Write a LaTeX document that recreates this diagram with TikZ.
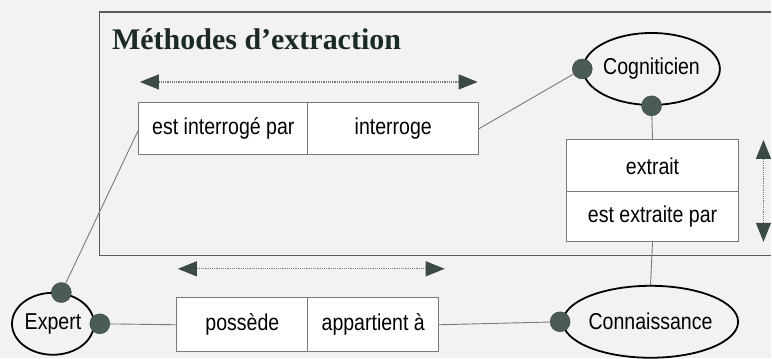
\documentclass[tikz,border=0pt]{standalone}
\usepackage{fontspec}
\setmainfont{Liberation Serif}
\newfontfamily\labelfont[FakeStretch=0.85]{Liberation Sans}
\usetikzlibrary{shapes.geometric}
\usetikzlibrary{arrows.meta}
\usetikzlibrary{positioning}
\definecolor{bgray}{HTML}{F1F2F1}
\definecolor{dotgreen}{HTML}{4B5C57}
\definecolor{linegray}{HTML}{7A7A7A}
\definecolor{titlegreen}{HTML}{1C2B22}
\definecolor{tipgreen}{HTML}{3C4A45}

\begin{document}
\begin{tikzpicture}[x=1pt,y=-1pt,
  cell/.style={draw=linegray,line width=0.9pt,fill=white,minimum height=52pt,inner sep=0pt,outer sep=0pt,
    font=\labelfont\fontsize{23}{27}\selectfont},
  entity/.style={ellipse,draw=black,line width=1.8pt,inner sep=0pt,
    font=\labelfont\fontsize{23}{27}\selectfont},
  dot/.style={circle,fill=dotgreen,draw=dotgreen!70!black,minimum size=20pt,inner sep=0pt},
  link/.style={linegray,line width=0.9pt},
  sens/.style={densely dotted,line width=1.2pt,draw=linegray,
    {Triangle[length=19pt,width=15pt,color=tipgreen,fill=tipgreen]}-{Triangle[length=19pt,width=15pt,color=tipgreen,fill=tipgreen]}}]
  \fill[bgray] (0,0) rectangle (772,358);
  % cadre des methodes
  \draw[black!65,line width=1.1pt] (772,12) -- (100,12) -- (100,256) -- (772,256);
  \node[anchor=west,inner sep=0pt,font=\bfseries\fontsize{30}{36}\selectfont,text=titlegreen] (titre) at (112,39) {Méthodes d’extraction};
  % relations
  \node[cell,minimum width=169pt] (estinterr) at (223.5,129) {est interrogé par};
  \node[cell,minimum width=171pt,right=0pt of estinterr] (interr) {interroge};
  \node[cell,minimum width=172pt] (extrait) at (653,166) {extrait};
  \node[cell,minimum width=172pt,minimum height=50pt,below=0pt of extrait] (estextr) {est extraite par};
  \node[cell,minimum width=131pt,minimum height=54pt] (possede) at (242.5,325) {possède};
  \node[cell,minimum width=131pt,minimum height=54pt,right=0pt of possede] (appart) {appartient à};
  % entites
  \node[entity,minimum width=135pt,minimum height=72pt] (cog) at (652,69) {Cogniticien};
  \node[entity,minimum width=82pt,minimum height=62pt] (expert) at (53,324) {Expert};
  \node[entity,minimum width=152pt,minimum height=72pt] (conn) at (651,322) {Connaissance};
  \node[dot] (cogW) at (cog.west) {};
  \node[dot] (cogS) at (cog.south) {};
  \node[dot] (expN) at (expert.75) {};
  \node[dot] (expE) at ([xshift=5pt]expert.east) {};
  \node[dot] (connW) at ([xshift=-2pt]conn.west) {};
  % liens
  \draw[link] (interr.east) -- (cogW);
  \draw[link] (estinterr.west) -- (expN);
  \draw[link] (expE) -- (possede.west);
  \draw[link] (appart.east) -- (connW);
  \draw[link] (cogS) -- (extrait.north);
  \draw[link] (estextr.south) -- (conn.north);
  % sens de lecture
  \coordinate (h1) at (140,82);
  \coordinate (h2) at (478,82);
  \coordinate (b1) at (178,269);
  \coordinate (b2) at (445,269);
  \coordinate (v1) at (764,140);
  \coordinate (v2) at (764,242);
  \draw[sens] (h1) -- (h2);
  \draw[sens] (b1) -- (b2);
  \draw[sens] (v1) -- (v2);
\end{tikzpicture}
\end{document}
